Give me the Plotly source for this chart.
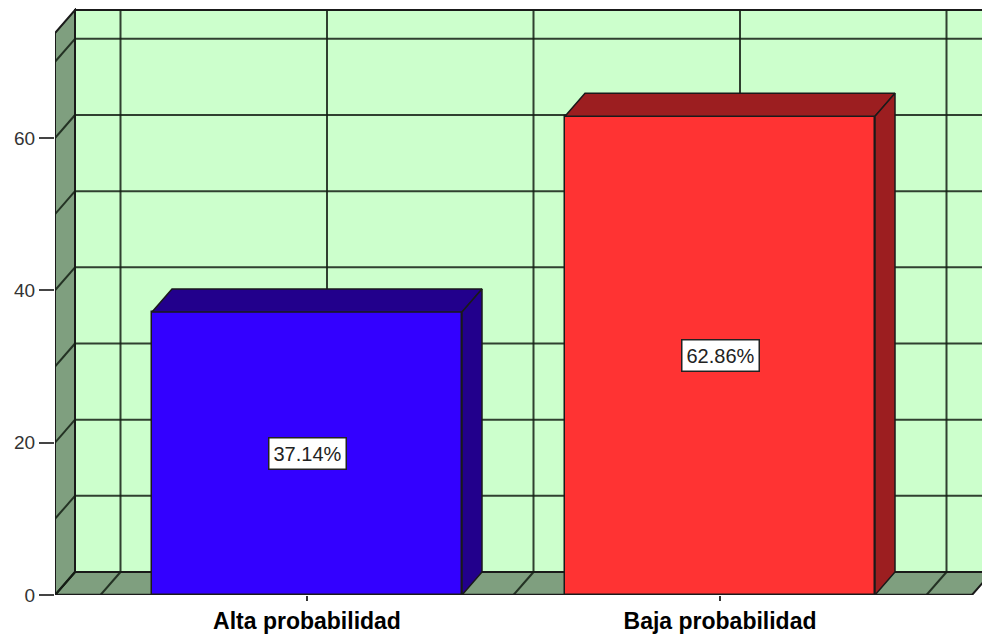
import plotly.graph_objects as go

# ---- data -------------------------------------------------------------
categories = ["Alta probabilidad", "Baja probabilidad"]
percentages = [37.14, 62.86]
y_ticks = [0, 20, 40, 60]

front_colors = ["#3300FF", "#FF3333"]
side_colors = ["#22008C", "#9C1E20"]

# ---- geometry of the pseudo-3D box ------------------------------------
W, H = 982, 635
ML, MR, MT, MB = 55, 0, 8, 40
plot_w = W - ML - MR
plot_h = H - MT - MB

px_per_cat = 413.0           # horizontal pixels between category centres
px_per_unit = 7.617          # vertical pixels per percentage point
first_center_px = 307 - ML   # first category centre, from plot left

x_min = -first_center_px / px_per_cat
x_max = x_min + plot_w / px_per_cat
y_max = plot_h / px_per_unit

depth_dx = 20 / px_per_cat   # depth offset in data units
depth_dy = 23 / px_per_unit

wall_left = x_min            # front-left corner of the box
wall_right = 1 - x_min       # symmetric front-right corner
wall_top = (595 - 10) / px_per_unit  # top edge of back wall
bar_w = 310 / px_per_cat

wall_fill = "#CCFFCC"
side_fill = "#7F9F7F"
edge = "#1a1a1a"
grid = "rgba(20,30,20,0.85)"

shapes = []


def poly(pts, fill, line_color=edge, width=1.5, layer="below"):
    path = "M " + " L ".join(f"{x},{y}" for x, y in pts) + " Z"
    shapes.append(dict(type="path", path=path, xref="x", yref="y",
                       fillcolor=fill, line=dict(color=line_color, width=width),
                       layer=layer))


def seg(x0, y0, x1, y1, color=grid, width=2, layer="below"):
    shapes.append(dict(type="line", x0=x0, y0=y0, x1=x1, y1=y1,
                       xref="x", yref="y", line=dict(color=color, width=width),
                       layer=layer))


# back wall
poly([(wall_left + depth_dx, depth_dy), (wall_left + depth_dx, wall_top),
      (wall_right + depth_dx, wall_top), (wall_right + depth_dx, depth_dy)],
     wall_fill, width=2)
# floor
poly([(wall_left, 0), (wall_left + depth_dx, depth_dy),
      (wall_right + depth_dx, depth_dy), (wall_right, 0)], side_fill, width=2)
# left wall
poly([(wall_left, 0), (wall_left, wall_top - depth_dy),
      (wall_left + depth_dx, wall_top), (wall_left + depth_dx, depth_dy)],
     side_fill, width=2)

# grid lines: every 10 points on back wall and left wall
for v in range(10, int(wall_top - depth_dy) + 1, 10):
    seg(wall_left + depth_dx, v + depth_dy, wall_right + depth_dx, v + depth_dy)
for v in range(0, int(wall_top - depth_dy) + 1, 10):
    seg(wall_left, v, wall_left + depth_dx, v + depth_dy)

# vertical grid lines at category centres and midpoints
for c in [-0.5, 0, 0.5, 1, 1.5]:
    seg(c + depth_dx, depth_dy, c + depth_dx, wall_top)
    seg(c, 0, c + depth_dx, depth_dy)

# front edge of floor (category axis)
seg(wall_left, 0, wall_right, 0, color=edge, width=2.5)

fig = go.Figure()

fig.add_trace(go.Bar(
    x=[0, 1], y=percentages, width=bar_w,
    marker=dict(color=front_colors, line=dict(color=edge, width=1.5)),
    hoverinfo="skip", showlegend=False,
))

# top and side faces of each bar
for i, v in enumerate(percentages):
    xl, xr = i - bar_w / 2, i + bar_w / 2
    top = [(xl, v), (xl + depth_dx, v + depth_dy),
           (xr + depth_dx, v + depth_dy), (xr, v), (xl, v)]
    side = [(xr, 0), (xr + depth_dx, depth_dy),
            (xr + depth_dx, v + depth_dy), (xr, v), (xr, 0)]
    for pts in (top, side):
        fig.add_trace(go.Scatter(
            x=[p[0] for p in pts], y=[p[1] for p in pts],
            mode="lines", fill="toself", fillcolor=side_colors[i],
            line=dict(color=edge, width=1.5),
            hoverinfo="skip", showlegend=False,
        ))

# value labels in boxes at mid-height of each bar
annotations = []
for i, v in enumerate(percentages):
    annotations.append(dict(
        x=i, y=v / 2, xref="x", yref="y", text=f"{v:.2f}%",
        showarrow=False, bgcolor="white", bordercolor="#222",
        borderwidth=1.5, borderpad=4,
        font=dict(family="Liberation Sans, Arial", size=20, color="#222"),
    ))

fig.update_layout(
    width=W, height=H,
    margin=dict(l=ML, r=MR, t=MT, b=MB, pad=0),
    paper_bgcolor="white", plot_bgcolor="white",
    shapes=shapes, annotations=annotations,
    bargap=0,
    xaxis=dict(
        range=[x_min, x_max], tickvals=[0, 1], ticktext=categories,
        showgrid=False, zeroline=False, showline=False,
        ticks="outside", ticklen=5, tickwidth=1.5, tickcolor="#333",
        tickfont=dict(family="Liberation Sans, Arial", size=23,
                      color="black", weight="bold"),
    ),
    yaxis=dict(
        range=[0, y_max], tickvals=y_ticks,
        showgrid=False, zeroline=False, showline=False,
        ticks="outside", ticklen=15, tickwidth=2, tickcolor="#444",
        tickfont=dict(family="Liberation Sans, Arial", size=19, color="#333"),
    ),
)

fig.write_html("out.html")
